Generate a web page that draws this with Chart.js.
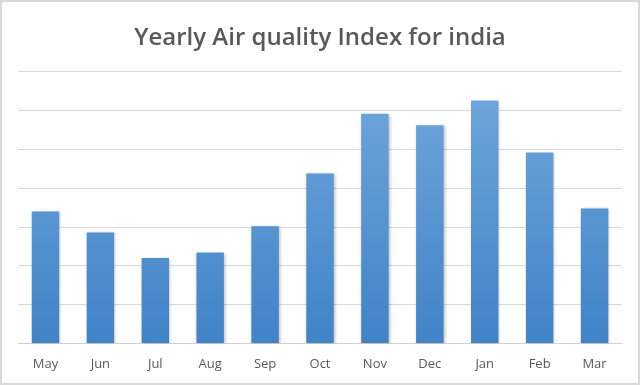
<!DOCTYPE html>
<html>
<head>
<meta charset="utf-8">
<script src="https://cdn.jsdelivr.net/npm/chart.js@4/dist/chart.umd.min.js"></script>
<style>
html,body{margin:0;padding:0;background:#fff;}
#wrap{width:640px;height:385px;position:relative;}
</style>
</head>
<body>
<div id="wrap"><canvas id="c" width="640" height="385"></canvas></div>
<script>
const months = ["May","Jun","Jul","Aug","Sep","Oct","Nov","Dec","Jan","Feb","Mar"];
const aqiValues = [170, 143, 110, 117, 151, 219, 296, 281, 313, 246, 174];
const chartTitle = "Yearly Air quality Index for india";

const bgBorder = {
  id: 'bgBorder',
  beforeDraw(chart) {
    const ctx = chart.ctx;
    ctx.save();
    ctx.fillStyle = '#ffffff';
    ctx.fillRect(0, 0, chart.width, chart.height);
    ctx.strokeStyle = '#d9d9d9';
    ctx.lineWidth = 2;
    ctx.strokeRect(1, 1, chart.width - 2, chart.height - 2);
    ctx.restore();
  }
};
const barShadow = {
  id: 'barShadow',
  beforeDatasetsDraw(chart) {
    const ctx = chart.ctx;
    ctx.save();
    ctx.shadowColor = 'rgba(0,0,0,0.28)';
    ctx.shadowBlur = 3;
    ctx.shadowOffsetX = 1;
    ctx.shadowOffsetY = 1;
  },
  afterDatasetsDraw(chart) {
    chart.ctx.restore();
  }
};

function barGradient(context) {
  const chart = context.chart;
  const area = chart.chartArea;
  if (!area) return '#5b9bd5';
  const g = chart.ctx.createLinearGradient(0, area.top, 0, area.bottom);
  g.addColorStop(0, '#72a8de');
  g.addColorStop(1, '#4083c7');
  return g;
}

new Chart(document.getElementById('c'), {
  type: 'bar',
  data: {
    labels: months,
    datasets: [{
      data: aqiValues,
      backgroundColor: barGradient,
      borderWidth: 0,
      categoryPercentage: 1.0,
      barPercentage: 0.5
    }]
  },
  options: {
    responsive: false,
    animation: false,
    layout: { padding: { left: 18, right: 18, top: 24, bottom: 8 } },
    plugins: {
      legend: { display: false },
      tooltip: { enabled: false },
      title: {
        display: true,
        text: chartTitle,
        color: '#595959',
        font: { family: 'Open Sans', size: 24, weight: '600' },
        padding: { top: 0, bottom: 19 }
      }
    },
    scales: {
      x: {
        grid: { display: false },
        border: { display: true, color: '#d0d0d0', width: 1 },
        ticks: { color: '#595959', font: { family: 'Open Sans', size: 13 }, padding: 5 }
      },
      y: {
        min: 0, max: 350,
        ticks: { display: false, stepSize: 50 },
        grid: { color: '#d9d9d9', lineWidth: 1, drawTicks: false },
        border: { display: false }
      }
    }
  },
  plugins: [bgBorder, barShadow]
});
</script>
</body>
</html>
